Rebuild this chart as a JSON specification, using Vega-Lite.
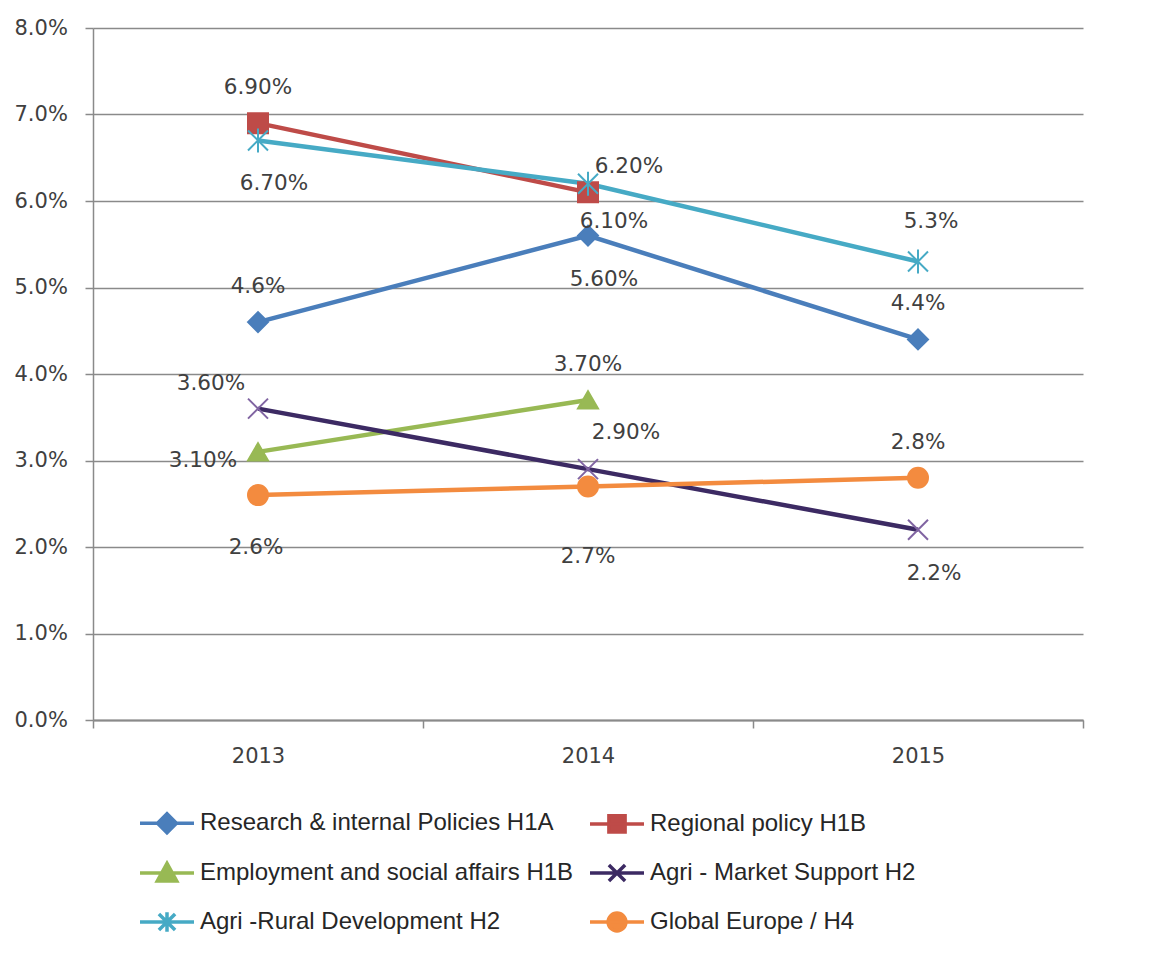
{
  "$schema": "https://vega.github.io/schema/vega-lite/v6.json",
  "autosize": {"type": "none"},
  "width": 990,
  "height": 692,
  "padding": {"left": 93, "top": 28, "right": 93, "bottom": 237},
  "background": "white",
  "config": {
    "view": {"stroke": null},
    "font": "DejaVu Sans"
  },
  "data": {
    "values": [
      {"series": "Research & internal Policies H1A", "year": "2013", "value": 0.046, "label": "4.6%"},
      {"series": "Research & internal Policies H1A", "year": "2014", "value": 0.056, "label": "5.60%"},
      {"series": "Research & internal Policies H1A", "year": "2015", "value": 0.044, "label": "4.4%"},
      {"series": "Regional policy H1B", "year": "2013", "value": 0.069, "label": "6.90%"},
      {"series": "Regional policy H1B", "year": "2014", "value": 0.061, "label": "6.10%"},
      {"series": "Employment and social affairs H1B", "year": "2013", "value": 0.031, "label": "3.10%"},
      {"series": "Employment and social affairs H1B", "year": "2014", "value": 0.037, "label": "3.70%"},
      {"series": "Agri - Market Support H2", "year": "2013", "value": 0.036, "label": "3.60%"},
      {"series": "Agri - Market Support H2", "year": "2014", "value": 0.029, "label": "2.90%"},
      {"series": "Agri - Market Support H2", "year": "2015", "value": 0.022, "label": "2.2%"},
      {"series": "Agri -Rural Development H2", "year": "2013", "value": 0.067, "label": "6.70%"},
      {"series": "Agri -Rural Development H2", "year": "2014", "value": 0.062, "label": "6.20%"},
      {"series": "Agri -Rural Development H2", "year": "2015", "value": 0.053, "label": "5.3%"},
      {"series": "Global Europe /  H4", "year": "2013", "value": 0.026, "label": "2.6%"},
      {"series": "Global Europe /  H4", "year": "2014", "value": 0.027, "label": "2.7%"},
      {"series": "Global Europe /  H4", "year": "2015", "value": 0.028, "label": "2.8%"}
    ]
  },
  "encoding": {
    "x": {
      "field": "year", "type": "nominal",
      "scale": {"type": "band", "paddingInner": 0, "paddingOuter": 0},
      "axis": {
        "title": null, "labelAngle": 0, "tickBand": "extent", "tickSize": 8,
        "tickColor": "#8a8a8a", "tickWidth": 1.5, "domainColor": "#8a8a8a", "domainWidth": 2,
        "labelFont": "DejaVu Sans", "labelFontSize": 21, "labelColor": "#404040", "labelPadding": 17
      }
    },
    "y": {
      "field": "value", "type": "quantitative",
      "scale": {"domain": [0, 0.08], "nice": false},
      "axis": {
        "title": null, "format": ".1%",
        "values": [0, 0.01, 0.02, 0.03, 0.04, 0.05, 0.06, 0.07, 0.08],
        "grid": true, "gridColor": "#8a8a8a", "gridWidth": 1.5,
        "domainColor": "#8a8a8a", "domainWidth": 1.5,
        "tickColor": "#8a8a8a", "tickWidth": 1.5, "tickSize": 8,
        "labelAlign": "left", "labelPadding": 71,
        "labelFont": "DejaVu Sans", "labelFontSize": 21, "labelColor": "#404040"
      }
    }
  },
  "layer": [
    {
      "mark": {"type": "line", "strokeWidth": 4.5},
      "encoding": {
        "stroke": {
          "field": "series", "type": "nominal",
          "scale": {
            "domain": ["Research & internal Policies H1A", "Regional policy H1B", "Employment and social affairs H1B", "Agri - Market Support H2", "Agri -Rural Development H2", "Global Europe /  H4"],
            "range": ["#4A7EBB", "#BE4B48", "#98B954", "#3C2A63", "#46AAC5", "#F38B3F"]
          },
          "legend": {
            "title": null, "orient": "none", "legendX": 45, "legendY": 766,
            "columns": 2, "direction": "horizontal", "columnPadding": 9, "rowPadding": 4,
            "symbolSize": 2916, "labelFont": "Liberation Sans", "labelFontSize": 24,
            "labelColor": "#262626", "labelOffset": 4, "labelLimit": 500,
            "encode": {
              "symbols": {
                "update": {
                  "shape": {"signal": "datum.value==='Research & internal Policies H1A' ? 'M-1,0H1M0,-0.35L0.35,0L0,0.35L-0.35,0Z' : datum.value==='Regional policy H1B' ? 'M-1,0H1M-0.3,-0.3H0.3V0.3H-0.3Z' : datum.value==='Employment and social affairs H1B' ? 'M-1,0H1M0,-0.36L0.36,0.3H-0.36Z' : datum.value==='Agri - Market Support H2' ? 'M-1,0H1M-0.3,-0.3L0.3,0.3M-0.3,0.3L0.3,-0.3' : datum.value==='Agri -Rural Development H2' ? 'M-1,0H1M-0.3,-0.3L0.3,0.3M-0.3,0.3L0.3,-0.3M0,-0.36V0.36' : 'M-1,0H1M-0.33,0A0.33,0.33,0,1,0,0.33,0A0.33,0.33,0,1,0,-0.33,0Z'"},
                  "fill": {"signal": "datum.value==='Research & internal Policies H1A' ? '#4A7EBB' : datum.value==='Regional policy H1B' ? '#BE4B48' : datum.value==='Employment and social affairs H1B' ? '#98B954' : datum.value==='Agri - Market Support H2' ? '#8064A2' : datum.value==='Agri -Rural Development H2' ? '#46AAC5' : '#F38B3F'"},
                  "strokeWidth": {"value": 3.5},
                  "opacity": {"value": 1}
                }
              }
            }
          }
        }
      }
    },
    {
      "mark": {"type": "point", "filled": true, "size": 400, "strokeWidth": 2, "opacity": 1},
      "encoding": {
        "color": {
          "field": "series", "type": "nominal", "legend": null,
          "scale": {
            "domain": ["Research & internal Policies H1A", "Regional policy H1B", "Employment and social affairs H1B", "Agri - Market Support H2", "Agri -Rural Development H2", "Global Europe /  H4"],
            "range": ["#4A7EBB", "#BE4B48", "#98B954", "#8064A2", "#46AAC5", "#F38B3F"]
          }
        },
        "stroke": {
          "field": "series", "type": "nominal", "legend": null,
          "scale": {
            "domain": ["Research & internal Policies H1A", "Regional policy H1B", "Employment and social affairs H1B", "Agri - Market Support H2", "Agri -Rural Development H2", "Global Europe /  H4"],
            "range": ["#4A7EBB", "#BE4B48", "#98B954", "#8064A2", "#46AAC5", "#F38B3F"]
          }
        },
        "shape": {
          "field": "series", "type": "nominal", "legend": null,
          "scale": {
            "domain": ["Research & internal Policies H1A", "Regional policy H1B", "Employment and social affairs H1B", "Agri - Market Support H2", "Agri -Rural Development H2", "Global Europe /  H4"],
            "range": ["diamond", "square", "triangle-up", "M-1,-1L1,1M-1,1L1,-1", "M-1,-1L1,1M-1,1L1,-1M0,-1.2V1.2", "circle"]
          }
        }
      }
    },
    {
      "transform": [{"filter": {"field": "label", "oneOf": ["4.6%", "4.4%", "6.90%", "3.70%", "2.8%"]}}],
      "mark": {"type": "text", "dy": -35, "fontSize": 21.5, "font": "DejaVu Sans", "color": "#404040"},
      "encoding": {"text": {"field": "label"}}
    },
    {
      "transform": [{"filter": {"field": "label", "oneOf": ["5.60%", "6.70%", "2.2%"]}}],
      "mark": {"type": "text", "dx": 16, "dy": 44, "fontSize": 21.5, "font": "DejaVu Sans", "color": "#404040"},
      "encoding": {"text": {"field": "label"}}
    },
    {
      "transform": [{"filter": {"field": "label", "equal": "5.3%"}}],
      "mark": {"type": "text", "dx": 13, "dy": -40, "fontSize": 21.5, "font": "DejaVu Sans", "color": "#404040"},
      "encoding": {"text": {"field": "label"}}
    },
    {
      "transform": [{"filter": {"field": "label", "equal": "6.10%"}}],
      "mark": {"type": "text", "dx": 26, "dy": 30, "fontSize": 21.5, "font": "DejaVu Sans", "color": "#404040"},
      "encoding": {"text": {"field": "label"}}
    },
    {
      "transform": [{"filter": {"field": "label", "equal": "6.20%"}}],
      "mark": {"type": "text", "dx": 41, "dy": -17, "fontSize": 21.5, "font": "DejaVu Sans", "color": "#404040"},
      "encoding": {"text": {"field": "label"}}
    },
    {
      "transform": [{"filter": {"field": "label", "equal": "2.90%"}}],
      "mark": {"type": "text", "dx": 38, "dy": -36, "fontSize": 21.5, "font": "DejaVu Sans", "color": "#404040"},
      "encoding": {"text": {"field": "label"}}
    },
    {
      "transform": [{"filter": {"field": "label", "equal": "2.6%"}}],
      "mark": {"type": "text", "dx": -2, "dy": 53, "fontSize": 21.5, "font": "DejaVu Sans", "color": "#404040"},
      "encoding": {"text": {"field": "label"}}
    },
    {
      "transform": [{"filter": {"field": "label", "equal": "2.7%"}}],
      "mark": {"type": "text", "dx": 0, "dy": 71, "fontSize": 21.5, "font": "DejaVu Sans", "color": "#404040"},
      "encoding": {"text": {"field": "label"}}
    },
    {
      "transform": [{"filter": {"field": "label", "equal": "3.60%"}}],
      "mark": {"type": "text", "dx": -47, "dy": -25, "fontSize": 21.5, "font": "DejaVu Sans", "color": "#404040"},
      "encoding": {"text": {"field": "label"}}
    },
    {
      "transform": [{"filter": {"field": "label", "equal": "3.10%"}}],
      "mark": {"type": "text", "dx": -55, "dy": 9, "fontSize": 21.5, "font": "DejaVu Sans", "color": "#404040"},
      "encoding": {"text": {"field": "label"}}
    }
  ],
  "resolve": {"scale": {"stroke": "independent"}}
}
